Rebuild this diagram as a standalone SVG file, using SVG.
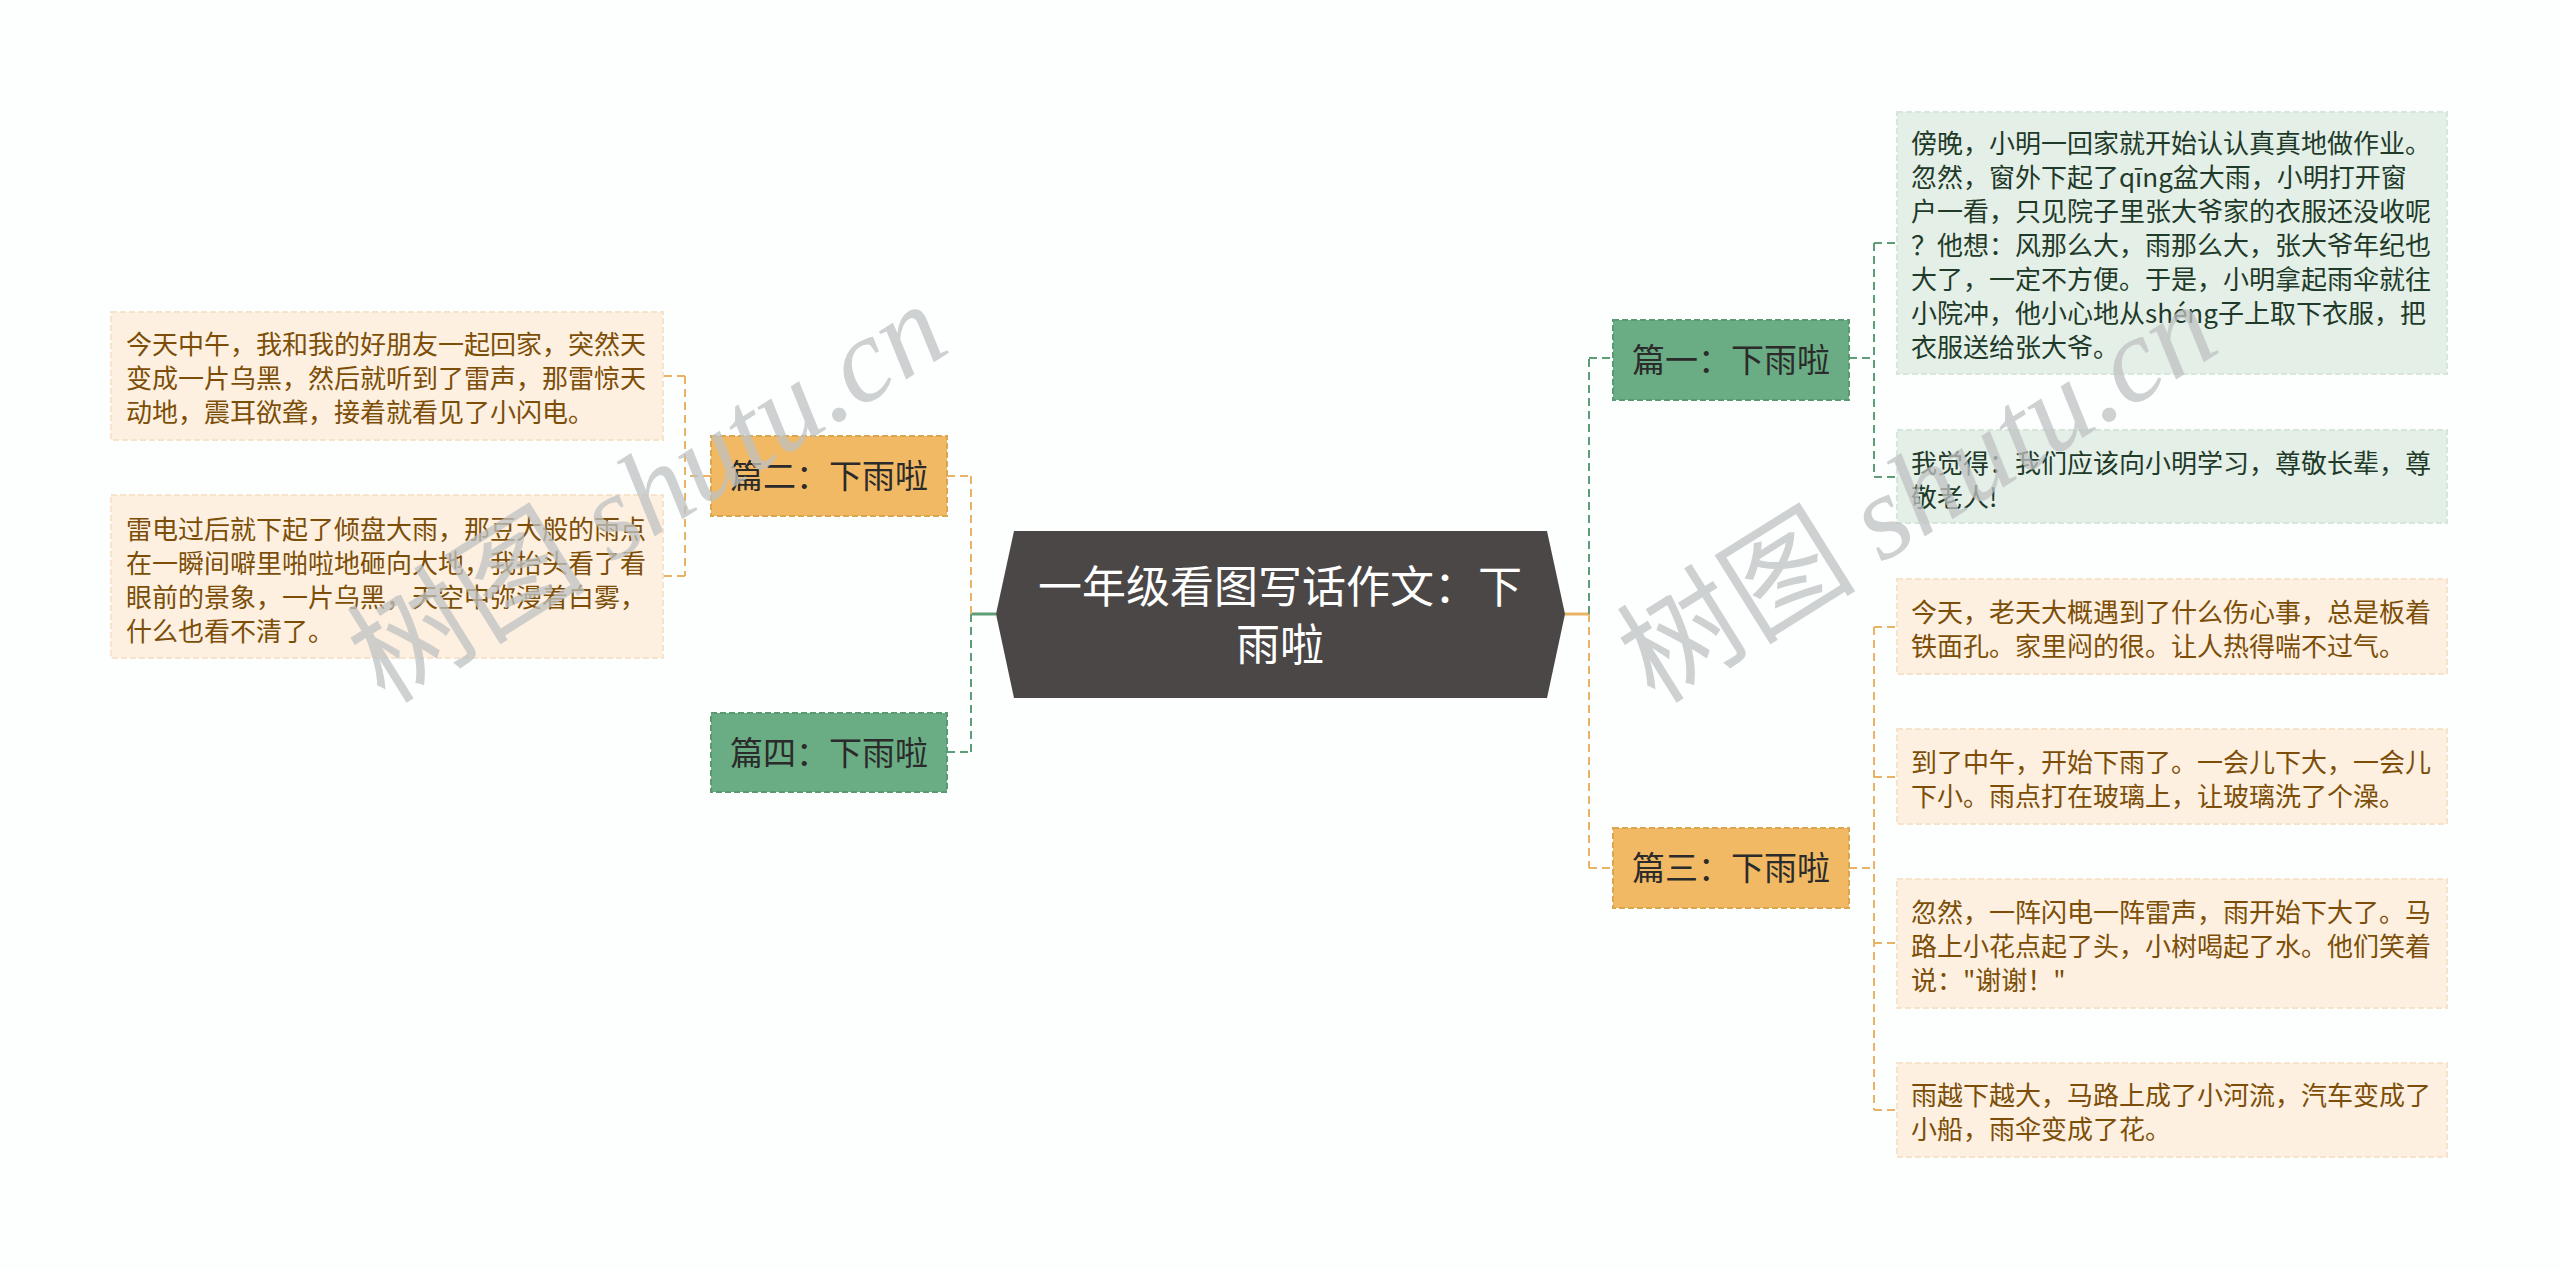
<svg xmlns="http://www.w3.org/2000/svg" width="2560" height="1269" viewBox="0 0 2560 1269">
<style>
text{font-family:"Noto Sans CJK SC","Noto Sans",sans-serif;}
.title{font-size:44px;fill:#ffffff;text-anchor:middle;}
.main{font-size:33px;fill:#2b2b2b;text-anchor:middle;}
.leafO{font-size:26px;fill:#7c4e07;}
.leafG{font-size:26px;fill:#1f3a29;}
.boxO{fill:#f2b964;stroke:#dca650;stroke-width:2;stroke-dasharray:6 3;}
.boxG{fill:#6aad84;stroke:#5a9a72;stroke-width:2;stroke-dasharray:6 3;}
.lboxO{fill:#fdf0e1;stroke:#f6e3ca;stroke-width:2;stroke-dasharray:6 3;}
.lboxG{fill:#e3efe7;stroke:#d6e6db;stroke-width:2;stroke-dasharray:6 3;}
.cO{stroke:#e8b364;stroke-width:2;fill:none;stroke-dasharray:8 5;}
.cG{stroke:#5e9e77;stroke-width:2;fill:none;stroke-dasharray:8 5;}
.sO{stroke:#e8b364;stroke-width:3;fill:none;}
.sG{stroke:#5e9e77;stroke-width:3;fill:none;}
.wm{fill:#bfc2c2;opacity:0.75;font-size:120px;}
</style>
<rect x="0" y="0" width="2560" height="1269" fill="#fdfefe"/>

<g id="connectors">
  <line class="sG" x1="996" y1="614" x2="971" y2="614"/>
  <line class="cO" x1="971" y1="614" x2="971" y2="476"/>
  <line class="cG" x1="971" y1="614" x2="971" y2="752"/>
  <line class="cO" x1="947" y1="476" x2="971" y2="476"/>
  <line class="cG" x1="947" y1="752" x2="971" y2="752"/>
  <line class="cO" x1="711" y1="476" x2="685" y2="476"/>
  <line class="cO" x1="685" y1="376" x2="685" y2="576"/>
  <line class="cO" x1="685" y1="376" x2="663" y2="376"/>
  <line class="cO" x1="685" y1="576" x2="663" y2="576"/>

  <line class="sO" x1="1565" y1="614" x2="1589" y2="614"/>
  <line class="cG" x1="1589" y1="614" x2="1589" y2="358"/>
  <line class="cO" x1="1589" y1="614" x2="1589" y2="868"/>
  <line class="cG" x1="1589" y1="358" x2="1613" y2="358"/>
  <line class="cO" x1="1589" y1="868" x2="1613" y2="868"/>
  <line class="cG" x1="1849" y1="358" x2="1874" y2="358"/>
  <line class="cG" x1="1874" y1="243" x2="1874" y2="477"/>
  <line class="cG" x1="1874" y1="243" x2="1897" y2="243"/>
  <line class="cG" x1="1874" y1="477" x2="1897" y2="477"/>
  <line class="cO" x1="1849" y1="868" x2="1874" y2="868"/>
  <line class="cO" x1="1874" y1="627" x2="1874" y2="1110"/>
  <line class="cO" x1="1874" y1="627" x2="1897" y2="627"/>
  <line class="cO" x1="1874" y1="777" x2="1897" y2="777"/>
  <line class="cO" x1="1874" y1="943" x2="1897" y2="943"/>
  <line class="cO" x1="1874" y1="1110" x2="1897" y2="1110"/>
</g>

<g id="root">
  <polygon points="996,614 1014,531 1547,531 1565,614 1547,698 1014,698" fill="#4b4747"/>
  <text class="title" x="1280" y="603">一年级看图写话作文：下</text>
  <text class="title" x="1280" y="661">雨啦</text>
</g>

<g id="p2">
  <rect class="boxO" x="711" y="436" width="236" height="80"/>
  <text class="main" x="829" y="488">篇二：下雨啦</text>
</g>
<g id="p4">
  <rect class="boxG" x="711" y="713" width="236" height="79"/>
  <text class="main" x="829" y="765">篇四：下雨啦</text>
</g>
<g id="p1">
  <rect class="boxG" x="1613" y="320" width="236" height="80"/>
  <text class="main" x="1731" y="372">篇一：下雨啦</text>
</g>
<g id="p3">
  <rect class="boxO" x="1613" y="828" width="236" height="80"/>
  <text class="main" x="1731" y="880">篇三：下雨啦</text>
</g>

<g id="leaf-l1">
  <rect class="lboxO" x="111" y="312" width="552" height="128"/>
  <text class="leafO" x="126" y="354">今天中午，我和我的好朋友一起回家，突然天</text>
  <text class="leafO" x="126" y="388">变成一片乌黑，然后就听到了雷声，那雷惊天</text>
  <text class="leafO" x="126" y="422">动地，震耳欲聋，接着就看见了小闪电。</text>
</g>
<g id="leaf-l2">
  <rect class="lboxO" x="111" y="495" width="552" height="163"/>
  <text class="leafO" x="126" y="539">雷电过后就下起了倾盘大雨，那豆大般的雨点</text>
  <text class="leafO" x="126" y="573">在一瞬间噼里啪啦地砸向大地，我抬头看了看</text>
  <text class="leafO" x="126" y="607">眼前的景象，一片乌黑，天空中弥漫着白雾，</text>
  <text class="leafO" x="126" y="641">什么也看不清了。</text>
</g>

<g id="leaf-r1">
  <rect class="lboxG" x="1897" y="112" width="550" height="262"/>
  <text class="leafG" x="1911" y="153">傍晚，小明一回家就开始认认真真地做作业。</text>
  <text class="leafG" x="1911" y="187">忽然，窗外下起了qīng盆大雨，小明打开窗</text>
  <text class="leafG" x="1911" y="221">户一看，只见院子里张大爷家的衣服还没收呢</text>
  <text class="leafG" x="1911" y="255">？他想：风那么大，雨那么大，张大爷年纪也</text>
  <text class="leafG" x="1911" y="289">大了，一定不方便。于是，小明拿起雨伞就往</text>
  <text class="leafG" x="1911" y="323">小院冲，他小心地从shéng子上取下衣服，把</text>
  <text class="leafG" x="1911" y="357">衣服送给张大爷。</text>
</g>
<g id="leaf-r2">
  <rect class="lboxG" x="1897" y="430" width="550" height="93"/>
  <text class="leafG" x="1911" y="473">我觉得：我们应该向小明学习，尊敬长辈，尊</text>
  <text class="leafG" x="1911" y="507">敬老人!</text>
</g>
<g id="leaf-r3">
  <rect class="lboxO" x="1897" y="579" width="550" height="95"/>
  <text class="leafO" x="1911" y="622">今天，老天大概遇到了什么伤心事，总是板着</text>
  <text class="leafO" x="1911" y="656">铁面孔。家里闷的很。让人热得喘不过气。</text>
</g>
<g id="leaf-r4">
  <rect class="lboxO" x="1897" y="729" width="550" height="95"/>
  <text class="leafO" x="1911" y="772">到了中午，开始下雨了。一会儿下大，一会儿</text>
  <text class="leafO" x="1911" y="806">下小。雨点打在玻璃上，让玻璃洗了个澡。</text>
</g>
<g id="leaf-r5">
  <rect class="lboxO" x="1897" y="879" width="550" height="129"/>
  <text class="leafO" x="1911" y="922">忽然，一阵闪电一阵雷声，雨开始下大了。马</text>
  <text class="leafO" x="1911" y="956">路上小花点起了头，小树喝起了水。他们笑着</text>
  <text class="leafO" x="1911" y="990">说："谢谢！"</text>
</g>
<g id="leaf-r6">
  <rect class="lboxO" x="1897" y="1063" width="550" height="94"/>
  <text class="leafO" x="1911" y="1105">雨越下越大，马路上成了小河流，汽车变成了</text>
  <text class="leafO" x="1911" y="1139">小船，雨伞变成了花。</text>
</g>

<g id="watermarks">
  <text class="wm" transform="translate(385,705) rotate(-32)">树图 <tspan style="font-family:'Liberation Serif',serif;font-style:italic">shutu.cn</tspan></text>
  <text class="wm" transform="translate(1655,705) rotate(-32)">树图 <tspan style="font-family:'Liberation Serif',serif;font-style:italic">shutu.cn</tspan></text>
</g>
</svg>
